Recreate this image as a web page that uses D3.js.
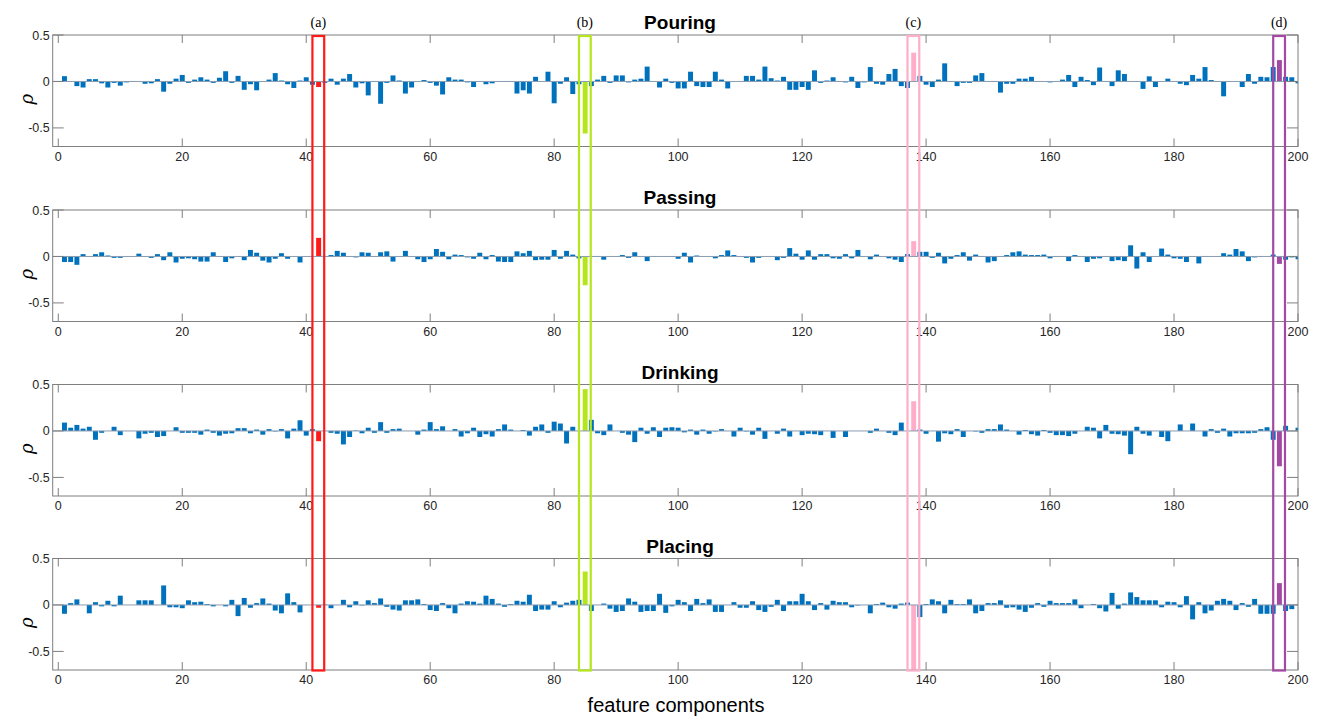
<!DOCTYPE html>
<html><head><meta charset="utf-8">
<script src="https://cdn.jsdelivr.net/npm/d3@7"></script>
<style>body{margin:0;background:#fff}svg{display:block}</style>
</head><body><svg id="c" width="1320" height="716"></svg>
<script>
const panelTitles = ["Pouring", "Passing", "Drinking", "Placing"];
const pouring = [0.057,0,-0.05,-0.065,0.025,0.025,-0.02,-0.065,-0.015,-0.045,-0.01,-0.005,0,-0.025,-0.02,0.025,-0.11,-0.025,0.03,0.07,
-0.015,0.02,0.045,0.02,-0.015,0.04,0.11,-0.015,0.06,-0.09,-0.03,-0.095,0,0.02,0.09,0.01,-0.03,-0.07,0.01,0.045,
-0.035,-0.06,-0.015,0.03,-0.035,0.03,0.08,-0.065,-0.02,-0.15,-0.005,-0.24,-0.015,0.065,0.01,-0.13,-0.065,0,0.015,-0.015,
-0.045,-0.14,0.045,0.02,0.02,-0.01,-0.06,0,-0.03,-0.02,0,0.003,0.005,-0.13,-0.095,-0.13,0.05,0,0.105,-0.235,
-0.025,0.045,-0.135,-0.03,-0.56,-0.05,0.02,0.06,-0.015,0.065,0.065,-0.01,0.02,0.03,0.16,0,-0.065,0.03,-0.015,-0.075,
-0.075,0.105,-0.05,-0.06,-0.06,0.105,0.02,-0.075,0,0,0.06,0.06,0.02,0.16,0.035,0.01,0.05,-0.09,-0.09,-0.06,
-0.09,0.12,-0.015,0.01,0.045,0,-0.01,0.05,-0.07,-0.01,0.155,-0.025,-0.035,0.08,0.135,-0.05,-0.07,0.31,0.06,-0.035,
-0.06,0.02,0.195,0,-0.05,-0.015,-0.015,0.065,0.09,0,0.005,-0.12,-0.025,-0.025,0.03,0.03,0.05,0.005,0,-0.01,
0,0.02,0.07,-0.06,0.05,0.015,-0.04,0.15,-0.005,-0.05,0.12,0.08,0.005,0.005,-0.08,0.055,-0.06,0,0.03,0,
-0.025,-0.04,0.07,0.03,0.155,0.015,-0.005,-0.16,0,0,-0.06,0.08,-0.025,0.05,0.045,0.155,0.23,0.05,0.045,-0.02];
const passing = [-0.06,-0.06,-0.09,0.025,0,0.025,0.045,0.01,-0.015,-0.015,0,0,0.03,0,-0.015,0.025,-0.04,0.045,-0.065,-0.025,
-0.02,-0.03,-0.055,-0.055,0.045,0,-0.06,-0.02,0,-0.04,0.07,0.04,-0.045,-0.065,-0.025,0.035,-0.025,0,-0.065,0.005,
0,0.2,0,0.015,0.06,0.04,0.005,-0.01,0.045,0.04,0.005,0.045,0.055,-0.055,0,0.06,0,-0.03,-0.06,-0.03,
0.08,0.05,-0.03,0.02,0.015,-0.01,-0.025,0.04,-0.03,0.015,-0.055,-0.06,-0.06,0.055,0.035,0.06,-0.04,-0.035,-0.035,0.07,
-0.025,0.06,0.02,-0.02,-0.31,-0.005,0.005,-0.035,0,0,0.015,-0.015,0.045,0,-0.05,0.005,0,0,-0.005,-0.025,
0.04,-0.065,0.01,0,0,-0.02,0.015,0.065,0.015,-0.005,-0.015,-0.065,-0.015,0,0,-0.04,-0.015,0.09,0.03,-0.035,
0.065,-0.035,0.025,0.025,-0.02,-0.025,0.025,-0.02,0.07,0,-0.03,0.02,0,-0.02,-0.035,-0.06,0.025,0.165,0.05,0.05,
-0.015,0.04,-0.075,-0.025,0.015,0.045,-0.045,0.02,0,-0.065,-0.05,0,0.015,0.045,0.055,0.02,0.015,0.015,0.02,-0.02,
0.005,0,-0.05,0.015,0,-0.06,-0.025,-0.02,0.005,-0.05,-0.04,-0.05,0.12,-0.13,0.045,-0.06,0,0.085,0.02,-0.02,
-0.025,-0.06,-0.005,-0.075,0.005,0,-0.005,0.035,0.02,0.08,0.055,-0.05,-0.01,0.005,0,0.02,-0.08,-0.035,-0.01,-0.03];
const drinking = [0.09,0.035,0.065,0.025,0.045,-0.095,-0.02,0,0.045,-0.045,0,0,-0.08,-0.03,-0.02,-0.065,-0.055,0,0.04,-0.02,
-0.02,-0.02,-0.04,0.015,-0.02,-0.05,-0.03,-0.025,0.03,0.03,-0.025,0.015,-0.04,0.02,-0.005,0.02,-0.08,0.025,0.115,-0.05,
0.02,-0.11,0,-0.02,-0.03,-0.145,-0.065,0.005,-0.025,0.035,-0.02,0.095,-0.02,0.02,0.025,0,0,-0.04,0.015,0.095,
0.02,0.05,0,0.02,-0.06,-0.025,0.035,-0.065,-0.035,-0.06,0.02,0.07,0.015,0,0.01,-0.05,0.045,0.07,-0.02,0.1,
0.08,-0.135,0.045,0,0.45,0.12,-0.025,-0.045,0.07,0,-0.02,-0.04,-0.12,0.035,-0.03,0.04,-0.065,0.035,0.04,0.035,
-0.015,0.015,-0.04,0.015,-0.03,-0.005,0.02,0,-0.06,0.035,-0.005,-0.04,0.035,-0.085,0,-0.03,0.025,-0.06,0,-0.045,
-0.03,-0.035,-0.045,0,-0.075,0,-0.065,0,0,0,-0.02,0.025,0,-0.02,-0.045,0.09,0,0.32,0.015,-0.03,
0,-0.115,-0.025,-0.035,0.02,-0.065,0,-0.005,-0.02,0.02,0.02,0.07,0.015,0,-0.04,0.01,-0.035,-0.05,0.01,-0.02,
-0.045,-0.045,-0.055,-0.03,0,0.045,0.035,-0.08,0.065,-0.03,-0.035,-0.05,-0.25,0.045,-0.03,-0.05,0,-0.065,-0.11,0,
0.07,0,0.08,0,-0.06,0.02,-0.02,0.025,-0.06,-0.025,-0.025,-0.025,-0.02,0.02,0.04,-0.095,-0.38,0.055,0,0.035];
const placing = [-0.095,0.02,0.06,0,-0.09,0.03,-0.015,0.045,-0.015,0.1,0,0,0.05,0.05,0.05,0,0.21,-0.025,-0.025,-0.035,
0.05,0.03,0.035,0.01,-0.015,0,-0.015,0.055,-0.12,0.075,-0.03,0.02,0.07,0.015,-0.06,-0.09,0.125,0.03,-0.08,0,
0,-0.03,0.005,-0.035,0,0.055,-0.025,0.04,-0.005,0.05,0.02,0.07,-0.02,-0.05,-0.06,0.05,0.05,0.06,0.01,-0.055,
-0.065,0.02,-0.035,-0.09,0.015,0.04,0.035,0.015,0.1,0.065,0.015,-0.02,0.01,0.045,0.035,0.11,-0.065,-0.05,-0.05,0.04,
-0.025,0.025,0.045,0.055,0.36,-0.065,0,0.015,-0.04,-0.075,-0.065,0.07,0.035,-0.075,-0.065,-0.065,0.12,-0.085,-0.015,0.055,
0.03,-0.065,0.065,0.02,0.06,-0.075,-0.075,0,0.03,-0.03,-0.03,0.04,-0.055,-0.075,-0.02,0.055,-0.065,0.04,0.04,0.12,
0.04,-0.055,0.02,-0.05,0.045,0.03,0.03,-0.025,-0.005,0,-0.09,0.01,0.025,-0.025,-0.04,0.015,0.025,-0.75,-0.13,0.01,
0.06,0.04,-0.09,0.055,0.01,0.01,0.06,-0.09,-0.065,0.02,0.02,0.05,-0.03,-0.025,-0.05,-0.075,-0.03,0.02,-0.02,0.045,
0.02,0.02,0.02,0.06,-0.035,0,0.01,-0.035,-0.07,0.13,-0.04,0.015,0.135,0.085,0.05,0.05,0.05,-0.025,0.035,0.03,
-0.025,0.095,-0.155,0.03,-0.09,-0.06,0.045,0.065,0.045,-0.055,0.02,-0.02,0.065,-0.095,-0.095,-0.095,0.235,-0.065,-0.045,0.005];
const series = [pouring, passing, drinking, placing];
const highlightIdx = [42, 85, 138, 197];
const highlightLabels = ["(a)", "(b)", "(c)", "(d)"];
const highlightColors = ["#ff1a1a", "#b5e61d", "#ffaec9", "#a349a4"];
const xTicks = [0,20,40,60,80,100,120,140,160,180,200];
const yTicks = [0.5, 0, -0.5];
const xLabel = "feature components";
const yLabel = "ρ";

const svg = d3.select("#c");
const left = 52.7, right = 1298;
const panelTops = [35, 210, 384.5, 558.5];
const panelH = 111.5;
const x = d3.scaleLinear().domain([-0.9, 200]).range([left, right]);
const barW = x(0.8) - x(0);
const axisColor = "#7f7f7f";
const barColor = "#0072bd";

series.forEach((vals, p) => {
  const top = panelTops[p], bot = top + panelH;
  const y = d3.scaleLinear().domain([-0.7, 0.5]).range([bot, top]);
  const g = svg.append("g");
  const cid = "clip" + p;
  svg.append("clipPath").attr("id", cid).append("rect")
    .attr("x", left).attr("y", top).attr("width", right - left).attr("height", panelH);
  const data = vals.map((v, i) => ({i: i + 1, v}));
  g.append("g").attr("clip-path", `url(#${cid})`).selectAll("rect").data(data).enter().append("rect")
    .attr("x", d => x(d.i) - barW / 2)
    .attr("width", barW)
    .attr("y", d => y(Math.max(0, d.v)))
    .attr("height", d => Math.abs(y(d.v) - y(0)))
    .attr("fill", d => { const k = highlightIdx.indexOf(d.i); return k >= 0 ? highlightColors[k] : barColor; });
  g.append("line").attr("x1", left).attr("x2", right).attr("y1", y(0)).attr("y2", y(0))
    .attr("stroke", "#8a9bb0").attr("stroke-width", 1);
  g.append("rect").attr("x", left).attr("y", top).attr("width", right - left).attr("height", panelH)
    .attr("fill", "none").attr("stroke", axisColor).attr("stroke-width", 1);
  xTicks.forEach(t => {
    g.append("line").attr("x1", x(t)).attr("x2", x(t)).attr("y1", bot).attr("y2", bot - 8).attr("stroke", axisColor);
    g.append("line").attr("x1", x(t)).attr("x2", x(t)).attr("y1", top).attr("y2", top + 8).attr("stroke", axisColor);
    g.append("text").attr("x", x(t)).attr("y", bot + 14).attr("text-anchor", "middle")
      .attr("font-family", "Arial, 'Liberation Sans', sans-serif").attr("font-size", 12.5).attr("fill", "#262626").text(t);
  });
  yTicks.forEach(t => {
    g.append("line").attr("x1", left).attr("x2", left + 11).attr("y1", y(t)).attr("y2", y(t)).attr("stroke", axisColor);
    g.append("line").attr("x1", right).attr("x2", right - 11).attr("y1", y(t)).attr("y2", y(t)).attr("stroke", axisColor);
    g.append("text").attr("x", left - 3).attr("y", y(t) + 4.5).attr("text-anchor", "end")
      .attr("font-family", "Arial, 'Liberation Sans', sans-serif").attr("font-size", 12.5).attr("fill", "#262626").text(t);
  });
  g.append("text").attr("x", 680).attr("y", top - 6).attr("text-anchor", "middle")
    .attr("font-family", "Arial, 'Liberation Sans', sans-serif").attr("font-weight", "bold").attr("font-size", 19)
    .attr("fill", "#000").text(panelTitles[p]);
  g.append("text").attr("transform", `translate(33,${y(-0.19)}) rotate(-90)`).attr("text-anchor", "middle")
    .attr("font-family", "'DejaVu Serif', 'Liberation Serif', serif").attr("font-style", "italic").attr("font-size", 18)
    .attr("fill", "#000").text(yLabel);
});

const boxTop = panelTops[0] + 1, boxBot = panelTops[3] + panelH + 0.5;
highlightIdx.forEach((h, k) => {
  const x0 = x(h - 1.0), x1 = x(h + 0.9);
  svg.append("rect").attr("x", x0).attr("y", boxTop).attr("width", x1 - x0).attr("height", boxBot - boxTop)
    .attr("fill", "none").attr("stroke", highlightColors[k]).attr("stroke-width", 2.2);
  svg.append("text").attr("x", (x0 + x1) / 2).attr("y", 27).attr("text-anchor", "middle")
    .attr("font-family", "'Liberation Serif', 'Times New Roman', serif").attr("font-size", 14)
    .attr("fill", "#000").text(highlightLabels[k]);
});

svg.append("text").attr("x", 676).attr("y", 712).attr("text-anchor", "middle")
  .attr("font-family", "Arial, 'Liberation Sans', sans-serif").attr("font-size", 20).attr("fill", "#000").text(xLabel);
</script></body></html>
